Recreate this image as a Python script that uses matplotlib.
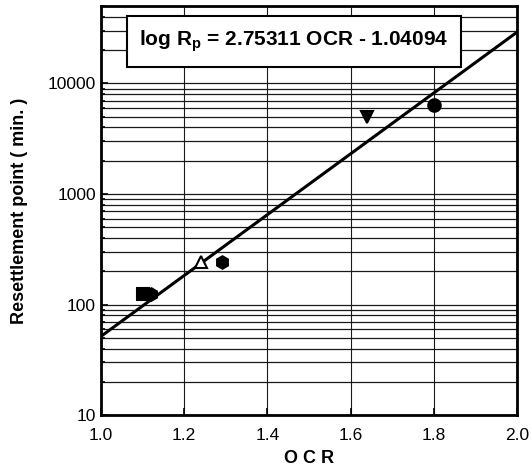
import numpy as np
import matplotlib
matplotlib.use("Agg")
from matplotlib import pyplot as plt
from matplotlib.ticker import FixedLocator, FixedFormatter, LogLocator, NullFormatter

plt.rcParams['font.family'] = ['Liberation Sans', 'DejaVu Sans']
plt.rcParams['mathtext.fontset'] = 'custom'
plt.rcParams['mathtext.rm'] = 'Liberation Sans:bold'
plt.rcParams['mathtext.bf'] = 'Liberation Sans:bold'

# measured points (OCR, resettlement point in minutes)
ocr = [1.10, 1.12, 1.24, 1.29, 1.64, 1.80]
rp = [125, 125, 245, 245, 5000, 6400]
marker_types = ['s', 'h', '^', 'h', 'v', 'o']
marker_filled = [True, True, False, True, True, True]

# regression line given on the chart: log Rp = a*OCR + b
fit_slope = 2.75311
fit_intercept = -1.04094
fit_range = [1.0, 2.0]

x_ticks = [1.0, 1.2, 1.4, 1.6, 1.8, 2.0]
x_tick_labels = ['1.0', '1.2', '1.4', '1.6', '1.8', '2.0']
y_ticks = [10, 100, 1000, 10000]
y_tick_labels = ['10', '100', '1000', '10000']

fig = plt.figure(figsize=(5.31, 4.75), dpi=100)
ax = fig.add_axes([0.190, 0.126, 0.784, 0.861])

ax.set_yscale('log')
ax.set_xlim(1.0, 2.0)
ax.set_ylim(10, 50000)

# grid: every minor decade step horizontally, 0.2 steps vertically
ax.yaxis.set_major_locator(FixedLocator(y_ticks))
ax.yaxis.set_major_formatter(FixedFormatter(y_tick_labels))
ax.yaxis.set_minor_locator(LogLocator(base=10, subs=np.arange(2, 10)))
ax.yaxis.set_minor_formatter(NullFormatter())
ax.xaxis.set_major_locator(FixedLocator(x_ticks))
ax.xaxis.set_major_formatter(FixedFormatter(x_tick_labels))
ax.grid(True, which='both', axis='y', color='0.1', linewidth=0.9)
ax.grid(True, which='major', axis='x', color='0.1', linewidth=0.8)

ax.tick_params(which='both', direction='in', labelsize=12.5, width=1.2)
ax.tick_params(which='major', length=5)
ax.tick_params(which='minor', length=3)
ax.tick_params(axis='x', pad=9)
for sp in ax.spines.values():
    sp.set_linewidth(2)

fx = np.array(fit_range)
ax.plot(fx, 10 ** (fit_slope * fx + fit_intercept), color='black', linewidth=2.2, zorder=3)

for x, y, m, f in zip(ocr, rp, marker_types, marker_filled):
    ax.plot([x], [y], marker=m, markersize=9, linestyle='none',
            markerfacecolor='black' if f else 'white', markeredgecolor='black',
            markeredgewidth=1.5, zorder=4)

ax.text(0.464, 0.914, r'log R$_\mathbf{p}$ = 2.75311 OCR - 1.04094', transform=ax.transAxes,
        ha='center', va='center', fontsize=15, fontweight='bold', zorder=5,
        bbox=dict(boxstyle='square,pad=0.6', facecolor='white', edgecolor='black', linewidth=1.5))

ax.set_xlabel('O C R', fontsize=13, fontweight='bold', labelpad=5)
ax.set_ylabel('Resettlement point ( min. )', fontsize=13, fontweight='bold', labelpad=14)

fig.savefig('out.png', dpi=100)
